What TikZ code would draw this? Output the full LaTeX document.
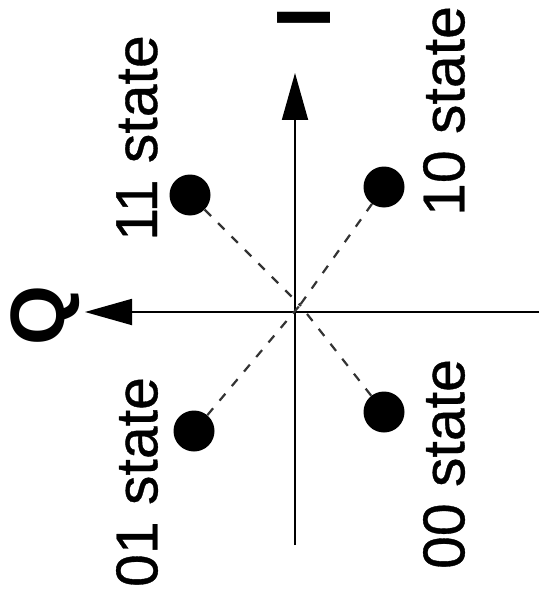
\documentclass[tikz,border=0pt]{standalone}
\usepackage{fontspec}
\setmainfont{Liberation Sans}
\newfontfamily\heavysans[FakeBold=0.6]{Liberation Sans}
\usetikzlibrary{arrows.meta}
\begin{document}
\begin{tikzpicture}[x=1pt,y=-1pt,
  axis/.style={line width=1.8pt,-{Triangle[length=47pt,width=26pt]}},
  dot/.style={circle,fill=black,inner sep=0pt,minimum size=41pt},
  conn/.style={line width=2.2pt,dash pattern=on 9pt off 10pt,black!80},
  statelbl/.style={rotate=90,inner sep=0pt,font=\heavysans\fontsize{59}{59}\selectfont},
  axlbl/.style={rotate=90,inner sep=0pt,font=\fontsize{77}{77}\selectfont\bfseries}]
\useasboundingbox (0,0) rectangle (539,604);
% axes
\coordinate (ibot) at (295,545);
\coordinate (itop) at (295,73);
\coordinate (qright) at (539,312);
\coordinate (qleft) at (85,312);
\draw[axis] (ibot) -- (itop);
\draw[axis] (qright) -- (qleft);
\node[axlbl] (ilab) at (304,18) {I};
\node[axlbl] (qlab) at (45,316) {Q};
% points
\coordinate (c) at (300,305);
\node[dot] (s11) at (190,195) {};
\node[dot] (s10) at (384,187) {};
\node[dot] (s01) at (194,431) {};
\node[dot] (s00) at (384,412) {};
\draw[conn] (s11) -- (c);
\draw[conn] (s10) -- (c);
\draw[conn] (s01) -- (c);
\draw[conn] (s00) -- (c);
% labels
\node[statelbl] (l11) at (137,138) {11 state};
\node[statelbl] (l10) at (444,111) {10 state};
\node[statelbl] (l01) at (137,482) {01 state};
\node[statelbl] (l00) at (444,464) {00 state};
\end{tikzpicture}
\end{document}
